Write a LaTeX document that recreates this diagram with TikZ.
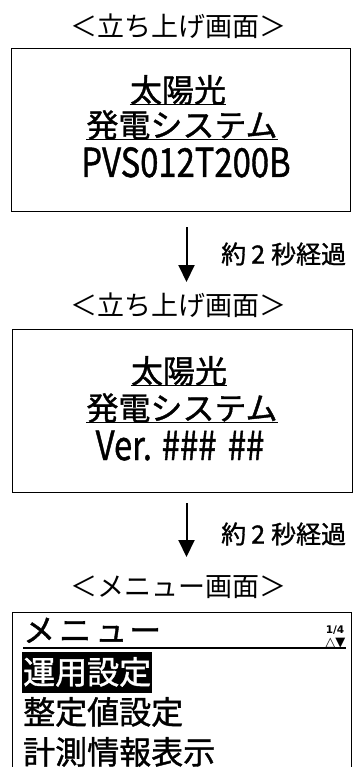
\documentclass[tikz,border=0pt]{standalone}
\usepackage{fontspec}
\usepackage{graphicx}
\usetikzlibrary{arrows.meta}
\newfontfamily\jp{Noto Sans CJK JP}
\newfontfamily\jpb{Noto Sans CJK JP}[FakeBold=1.2]
\newfontfamily\sym{DejaVu Sans}
\newcommand\narrowlat[1]{\scalebox{0.82}[1]{#1}}
\begin{document}
\begin{tikzpicture}[x=1pt,y=-1pt,
  title/.style={font=\jp\fontsize{27}{27}\selectfont, anchor=base, inner sep=0},
  big/.style={font=\jpb\fontsize{32}{32}\selectfont, anchor=base, inner sep=0},
  menuitem/.style={font=\jpb\fontsize{32}{32}\selectfont, anchor=base west, inner sep=0},
  lat/.style={font=\jpb\fontsize{40}{40}\selectfont, anchor=base, inner sep=0},
  lbl/.style={font=\jpb\fontsize{25}{25}\selectfont, anchor=base west, inner sep=0},
  frame/.style={draw, line width=0.9pt, inner sep=0, anchor=north west},
  uline/.style={line width=1.3pt},
  arr/.style={line width=2pt, -{Triangle[width=16pt,length=17pt]}}]
\useasboundingbox (0,0) rectangle (354,767);

% screen 1
\node[title] (t1) at (178,37) {＜立ち上げ画面＞};
\node[frame, minimum width=339pt, minimum height=163pt] (b1) at (11,48) {};
\node[big] (s1a) at (178,102) {太陽光};
\node[big] (s1b) at (182,137) {発電システム};
\node[lat] (s1c) at (186,177) {\narrowlat{PVS012T200B}};
\draw[uline] ([yshift=-2.5pt]s1a.base west) -- ([yshift=-2.5pt]s1a.base east);
\draw[uline] ([yshift=-2.5pt]s1b.base west) -- ([yshift=-2.5pt]s1b.base east);

% arrow 1
\coordinate (a1s) at (186.5,227);
\coordinate (a1e) at (186.5,282);
\draw[arr] (a1s) -- (a1e);
\node[lbl] (l1) at (221,263.5) {約\hspace{5pt}2\hspace{6pt}秒経過};

% screen 2
\node[title] (t2) at (178,315) {＜立ち上げ画面＞};
\node[frame, minimum width=340pt, minimum height=163pt] (b2) at (12,329) {};
\node[big] (s2a) at (179,383) {太陽光};
\node[big] (s2b) at (182,420) {発電システム};
\node[lat] (s2c) at (180,460) {\narrowlat{Ver.\hspace{12pt}\#\#\#\hspace{14pt}\#\#}};
\draw[uline] ([yshift=-2.5pt]s2a.base west) -- ([yshift=-2.5pt]s2a.base east);
\draw[uline] ([yshift=-2.5pt]s2b.base west) -- ([yshift=-2.5pt]s2b.base east);

% arrow 2
\coordinate (a2s) at (186.5,503);
\coordinate (a2e) at (186.5,557);
\draw[arr] (a2s) -- (a2e);
\node[lbl] (l2) at (221,543.5) {約\hspace{5pt}2\hspace{6pt}秒経過};

% screen 3
\node[title] (t3) at (178,596) {＜メニュー画面＞};
\coordinate (b3bl) at (12,767);
\coordinate (b3tl) at (12,612);
\coordinate (b3tr) at (351,612);
\coordinate (b3br) at (351,767);
\draw[line width=0.9pt] (b3bl) -- (b3tl) -- (b3tr) -- (b3br);
\node[menuitem] (m0) at (23,642) {メ\hspace{4pt}ニ\hspace{4pt}ュ\hspace{2pt}ー};
\coordinate (ul1) at (23,648);
\coordinate (ul2) at (346,648);
\draw[line width=1.1pt] (ul1) -- (ul2);
\node[font=\sym\bfseries\fontsize{10.5}{10.5}\selectfont, anchor=base east, inner sep=0] (pg) at (344.5,633) {1/4};
\node[font=\sym\fontsize{13}{13}\selectfont, anchor=base east, inner sep=0] (tri) at (345.5,646.5) {△▼};
\node[menuitem, fill=black, text=white, text height=32pt, text depth=9pt, inner xsep=1pt] (m1) at (22,684) {運用設定};
\node[menuitem] (m2) at (23,724) {整定値設定};
\node[menuitem] (m3) at (23,764) {計測情報表示};
\end{tikzpicture}
\end{document}
